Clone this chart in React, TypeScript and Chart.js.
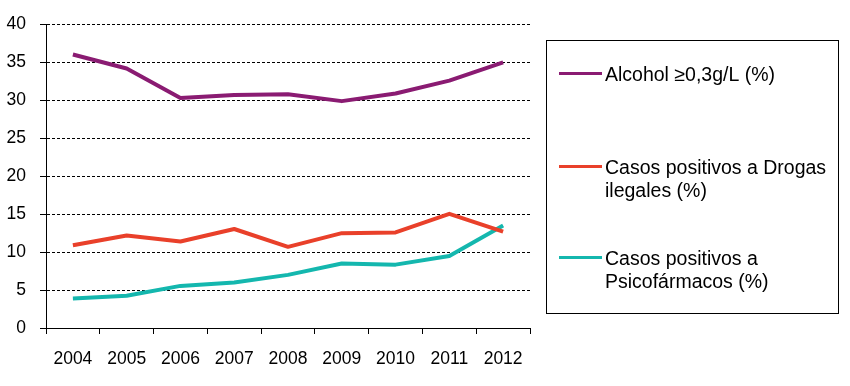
import React, { useEffect, useRef } from "react";
import { Chart, registerables } from "chart.js";

Chart.register(...registerables);

const years = ["2004", "2005", "2006", "2007", "2008", "2009", "2010", "2011", "2012"];
const alcohol = [36.05, 34.2, 30.3, 30.7, 30.8, 29.9, 30.9, 32.6, 35.0];
const drogas = [10.9, 12.2, 11.4, 13.05, 10.7, 12.5, 12.6, 15.05, 12.7];
const psico = [3.9, 4.25, 5.55, 6.0, 7.0, 8.5, 8.35, 9.5, 13.5];
const legendLines = [
  ["Alcohol ≥0,3g/L (%)"],
  ["Casos positivos a Drogas", "ilegales (%)"],
  ["Casos positivos a", "Psicofármacos (%)"],
];
const colors = ["#8A1B72", "#E9402A", "#14B7AE"];

const FONT = "'Liberation Sans', Arial, sans-serif";

const boxLegend = {
  id: "boxLegend",
  afterDraw(chart: any) {
    const ctx = chart.ctx as CanvasRenderingContext2D;
    ctx.save();
    ctx.strokeStyle = "#000";
    ctx.lineWidth = 1;
    ctx.setLineDash([]);
    ctx.strokeRect(546.5, 40.5, 292, 273);
    const rowCenters = [74, 167, 258];
    const lh = 23;
    chart.data.datasets.forEach((ds: any, i: number) => {
      const y0 = rowCenters[i];
      ctx.strokeStyle = ds.borderColor;
      ctx.lineWidth = 3;
      ctx.beginPath();
      ctx.moveTo(559, y0 - 0.5);
      ctx.lineTo(602, y0 - 0.5);
      ctx.stroke();
      ctx.fillStyle = "#000";
      ctx.font = `19.5px ${FONT}`;
      ctx.textBaseline = "middle";
      ctx.textAlign = "left";
      legendLines[i].forEach((t, j) => {
        ctx.fillText(t, 605, y0 + 1.5 + j * lh);
      });
    });
    ctx.restore();
  },
};

export default function App() {
  const ref = useRef<HTMLCanvasElement | null>(null);
  useEffect(() => {
    if (!ref.current) return;
    const chart = new Chart(ref.current, {
      type: "line",
      data: {
        labels: years,
        datasets: [
          { label: legendLines[0].join(" "), data: alcohol, borderColor: colors[0] },
          { label: legendLines[1].join(" "), data: drogas, borderColor: colors[1] },
          { label: legendLines[2].join(" "), data: psico, borderColor: colors[2] },
        ].map((d) => ({
          ...d,
          backgroundColor: d.borderColor,
          borderWidth: 4,
          pointRadius: 0,
          tension: 0,
          borderJoinStyle: "round" as const,
          borderCapStyle: "butt" as const,
          fill: false,
        })),
      },
      options: {
        animation: false,
        responsive: true,
        maintainAspectRatio: false,
        layout: { padding: { top: 24, right: 320, left: 0, bottom: 0 } },
        plugins: { legend: { display: false }, tooltip: { enabled: false } },
        scales: {
          x: {
            offset: true,
            grid: {
              offset: true,
              drawOnChartArea: false,
              drawTicks: true,
              tickLength: 6,
              color: "#000",
              tickColor: "#000",
              lineWidth: 1,
            },
            border: { display: true, color: "#000", width: 1 },
            ticks: {
              color: "#000",
              font: { family: FONT, size: 17.5 },
              padding: 15,
              maxRotation: 0,
              autoSkip: false,
            },
            afterFit: (s: any) => {
              s.height = 58;
            },
          },
          y: {
            min: 0,
            max: 40,
            grid: {
              color: "#000",
              lineWidth: 1,
              tickLength: 6,
              tickColor: "#000",
              drawTicks: true,
            },
            border: { display: true, color: "#000", width: 1, dash: [3, 2] },
            ticks: {
              stepSize: 5,
              color: "#000",
              font: { family: FONT, size: 17.5 },
              padding: 14,
            },
            afterFit: (s: any) => {
              s.width = 46;
            },
          },
        },
      },
      plugins: [boxLegend],
    });
    return () => chart.destroy();
  }, []);
  return (
    <div style={{ position: "fixed", left: 0, top: 0, width: 850, height: 386, background: "#fff" }}>
      <canvas ref={ref} />
    </div>
  );
}
